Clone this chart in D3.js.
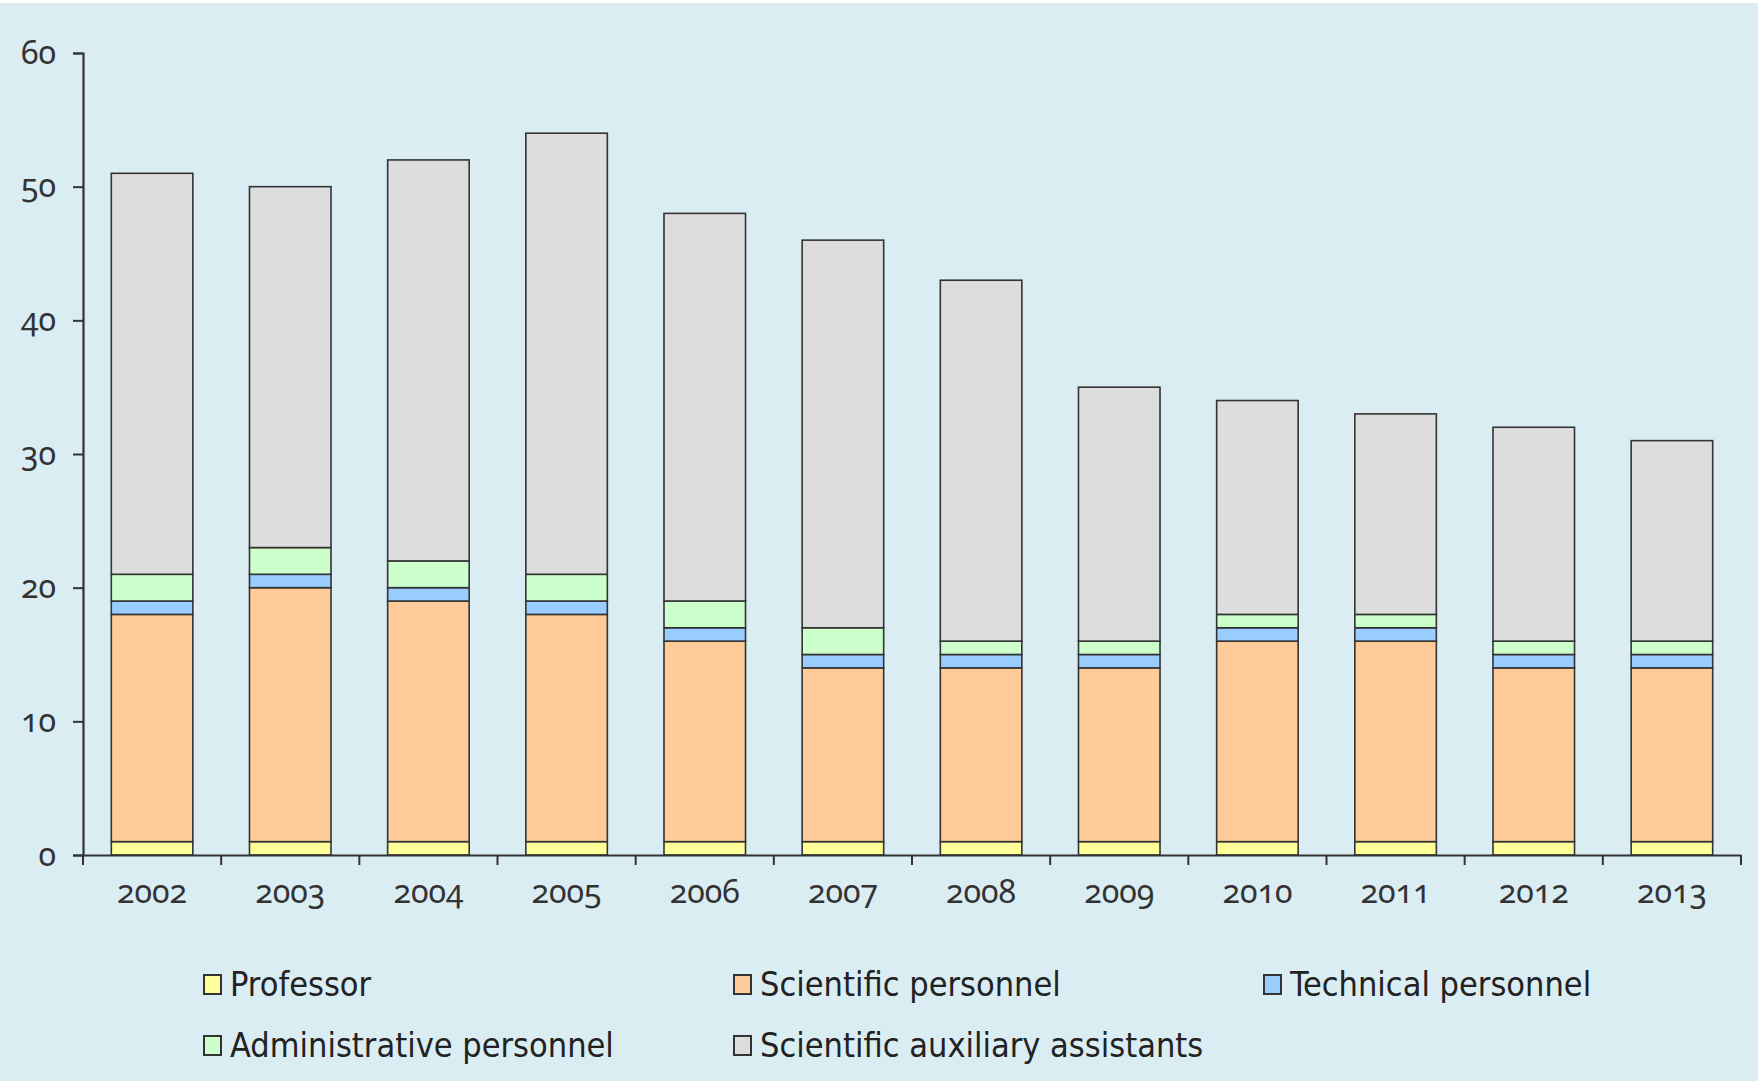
<!DOCTYPE html>
<html>

<head>
    <meta charset="utf-8">
    <style>
        body {
            margin: 0;
            background: white;
        }

        svg {
            display: block;
        }

        .tick text {
            font-family: "Noto Sans", sans-serif;
            font-variant-numeric: oldstyle-nums;
            font-feature-settings: "onum" 1;
            fill: #333;
        }

        .legend text {
            font-family: "Liberation Sans Narrow", "DejaVu Sans Condensed", sans-serif;
            font-stretch: condensed;
            fill: #222;
        }
    </style>
</head>

<body>
    <svg width="1758" height="1081"></svg>
</body>

<script src="https://d3js.org/d3.v7.min.js"></script>

<script>
    // values
    let years = ["2002", "2003", "2004", "2005", "2006", "2007", "2008", "2009", "2010", "2011", "2012", "2013"]
    let professor = [1, 1, 1, 1, 1, 1, 1, 1, 1, 1, 1, 1]
    let scientific = [17, 19, 18, 17, 15, 13, 13, 13, 15, 15, 13, 13]
    let technical = [1, 1, 1, 1, 1, 1, 1, 1, 1, 1, 1, 1]
    let administrative = [2, 2, 2, 2, 2, 2, 1, 1, 1, 1, 1, 1]
    let auxiliary = [30, 27, 30, 33, 29, 29, 27, 19, 16, 15, 16, 15]

    let seriesNames = ["Professor", "Scientific personnel", "Technical personnel", "Administrative personnel", "Scientific auxiliary assistants"]
    let seriesValues = [professor, scientific, technical, administrative, auxiliary]
    let colors = ["#ffff99", "#ffcc99", "#99ccff", "#ccffcc", "#dddddd"]
    let yTicks = [0, 10, 20, 30, 40, 50, 60]

    let width = 1758
    let height = 1081
    let margin = { top: 53, left: 83, right: 17, bottom: 226 }

    let svg = d3.select("svg")

    svg.append("rect")
        .attr("x", 0)
        .attr("y", 3)
        .attr("width", width)
        .attr("height", height - 3)
        .attr("fill", "#daedf3")

    // table for d3.stack
    let table = years.map((y, i) => {
        let row = { year: y }
        seriesNames.forEach((s, j) => row[s] = seriesValues[j][i])
        return row
    })
    let stacked = d3.stack().keys(seriesNames)(table)

    let x = d3.scaleBand()
        .domain(years)
        .range([margin.left, width - margin.right])
        .paddingInner(0.41)
        .paddingOuter(0.205)

    let y = d3.scaleLinear()
        .domain([0, 60])
        .range([height - margin.bottom, margin.top])

    let color = d3.scaleOrdinal().domain(seriesNames).range(colors)

    svg.append("g")
        .selectAll("g")
        .data(stacked)
        .join("g")
        .attr("fill", d => color(d.key))
        .selectAll("rect")
        .data(d => d)
        .join("rect")
        .attr("x", d => x(d.data.year))
        .attr("y", d => y(d[1]))
        .attr("width", x.bandwidth())
        .attr("height", d => y(d[0]) - y(d[1]))
        .attr("stroke", "#333")
        .attr("stroke-width", 1.6)

    // y axis
    let yAxis = svg.append("g")
        .attr("transform", `translate(${margin.left},0)`)
        .call(d3.axisLeft(y).tickValues(yTicks).tickSize(10).tickPadding(17))
    yAxis.selectAll("text").attr("font-size", 32)

    // x axis: ticks at the band edges, labels below the band centres
    let xAxis = svg.append("g")
        .attr("transform", `translate(0,${height - margin.bottom})`)
        .call(d3.axisBottom(x).tickSize(0).tickPadding(25))
    xAxis.selectAll("text").attr("font-size", 32)

    let step = x.step()
    let edges = d3.range(years.length + 1).map(i => margin.left + i * step)
    xAxis.selectAll(".edge")
        .data(edges)
        .join("line")
        .attr("class", "edge")
        .attr("x1", d => d)
        .attr("x2", d => d)
        .attr("y1", 0)
        .attr("y2", 10)
        .attr("stroke", "#333")
        .attr("stroke-width", 2)

    svg.selectAll(".domain").attr("stroke", "#333").attr("stroke-width", 2.2)
    svg.selectAll(".tick line").attr("stroke", "#333").attr("stroke-width", 2)

    // legend
    let legendPos = [[204, 984], [734, 984], [1264, 984], [204, 1045], [734, 1045]]
    let legend = svg.append("g")
        .attr("class", "legend")
        .selectAll("g")
        .data(seriesNames)
        .join("g")
        .attr("transform", (d, i) => `translate(${legendPos[i][0]},${legendPos[i][1]})`)

    legend.append("rect")
        .attr("x", 0)
        .attr("y", -9)
        .attr("width", 17)
        .attr("height", 19)
        .attr("fill", d => color(d))
        .attr("stroke", "#333")
        .attr("stroke-width", 2)

    legend.append("text")
        .attr("x", 26)
        .attr("y", 0)
        .attr("dy", "0.35em")
        .attr("font-size", 34)
        .text(d => d)
</script>

</html>
